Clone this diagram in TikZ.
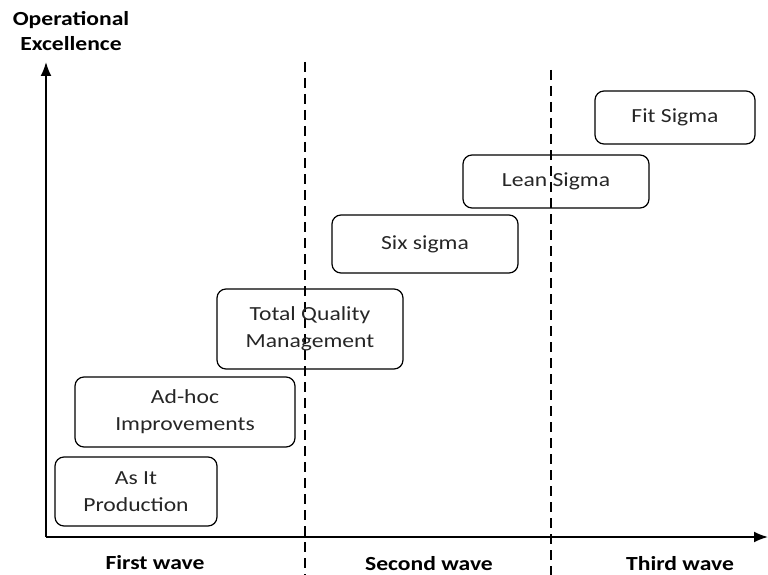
\documentclass[tikz,border=0pt]{standalone}
\usepackage{fontspec}
\setmainfont{Carlito}[FakeStretch=1.18]
\usetikzlibrary{arrows.meta}
\tikzset{
  stage/.style={draw,rounded corners=9pt,line width=1.2pt,align=center,
    text=black!85,inner sep=2pt},
  wave/.style={font=\fontsize{20}{25}\selectfont\bfseries,inner sep=0.5pt},
  divider/.style={line width=1.4pt,dash pattern=on 10pt off 6pt},
  axis/.style={line width=1.8pt,-{Latex[length=14pt,width=11pt]}}
}
\begin{document}
\begin{tikzpicture}[x=1pt,y=-1pt,font=\fontsize{20}{27}\selectfont]
  \useasboundingbox (0,0) rectangle (768,575);
  % axes
  \coordinate (O) at (46,537);
  \coordinate (ytop) at (46,62);
  \coordinate (xend) at (768,537);
  \draw[axis] (O) -- (ytop);
  \draw[axis] (O) -- (xend);
  \node[wave,align=center] (yl) at (71,31) {Operational\\Excellence};
  % wave dividers
  \coordinate (d1a) at (305,62);
  \coordinate (d1b) at (305,575);
  \coordinate (d2a) at (551,70);
  \coordinate (d2b) at (551,575);
  \draw[divider] (d1a) -- (d1b);
  \draw[divider] (d2a) -- (d2b);
  % stages
  \node[stage,minimum width=162pt,minimum height=69pt] (asit) at (136,491.5) {As It\\Production};
  \node[stage,minimum width=220pt,minimum height=70pt] (adhoc) at (185,412) {Ad-hoc\\Improvements};
  \node[stage,minimum width=186pt,minimum height=80pt] (tqm) at (310,329) {Total Quality\\Management};
  \node[stage,minimum width=186pt,minimum height=58pt] (six) at (425,244) {Six sigma};
  \node[stage,minimum width=186pt,minimum height=53pt] (lean) at (556,181.5) {Lean Sigma};
  \node[stage,minimum width=160pt,minimum height=53pt] (fit) at (675,117.5) {Fit Sigma};
  % wave labels
  \node[wave] (w1) at (155,563) {First wave};
  \node[wave] (w2) at (429,564) {Second wave};
  \node[wave] (w3) at (680,564) {Third wave};
\end{tikzpicture}
\end{document}
